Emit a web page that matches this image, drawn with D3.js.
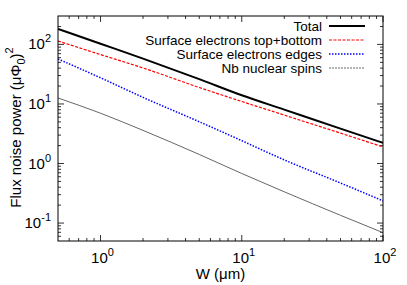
<!DOCTYPE html>
<html>
<head>
<meta charset="utf-8">
<script src="https://cdn.jsdelivr.net/npm/d3@7"></script>
<style>
  body { margin: 0; background: #fff; }
  text { font-family: "Liberation Sans", Arial, sans-serif; fill: #000; }
</style>
</head>
<body>
<script>
// data
const widths = [0.5, 1, 2, 5, 10, 20, 50, 100];
const total = [182, 102.6, 57.8, 26.1, 14.0, 8.03, 3.85, 2.22];
const topBottom = [114, 67.5, 40.2, 18.9, 11.0, 6.5, 3.24, 1.9];
const edges = [57, 27.5, 12.9, 5.03, 2.42, 1.15, 0.471, 0.236];
const nuclear = [12.6, 7.0, 3.6, 1.42, 0.68, 0.335, 0.135, 0.069];
const seriesNames = ["Total", "Surface electrons top+bottom", "Surface electrons edges", "Nb nuclear spins"];
const xTicks = [1, 10, 100];
const yTicks = [0.1, 1, 10, 100];

const width = 407, height = 285;
const margin = {top: 16, right: 24, bottom: 44, left: 58};

const svg = d3.select("body").append("svg")
  .attr("width", width).attr("height", height);

const x = d3.scaleLog().domain([0.5, 100]).range([margin.left, width - margin.right]);
const y = d3.scaleLog().domain([0.05, 300]).range([height - margin.bottom, margin.top]);

const series = [
  {name: seriesNames[0], values: total, color: "#000", w: 2, dash: null},
  {name: seriesNames[1], values: topBottom, color: "#f00", w: 1.2, dash: "3,1.5"},
  {name: seriesNames[2], values: edges, color: "#00f", w: 1.5, dash: "1.5,1.5"},
  {name: seriesNames[3], values: nuclear, color: "#555", w: 0.9, dash: null}
];

// minor ticks
const minorX = [], minorY = [];
for (let e = -1; e <= 2; e++) for (let m = 2; m <= 9; m++) {
  const v = m * Math.pow(10, e);
  if (v > 0.5 && v < 100) minorX.push(v);
}
for (let e = -2; e <= 2; e++) for (let m = 2; m <= 9; m++) {
  const v = m * Math.pow(10, e);
  if (v > 0.05 && v < 300) minorY.push(v);
}

const x0 = margin.left, x1 = width - margin.right;
const y0 = height - margin.bottom, y1 = margin.top;
const ticks = svg.append("g").attr("stroke", "#000").attr("stroke-width", 0.8);
minorX.forEach(v => {
  ticks.append("line").attr("x1", x(v)).attr("x2", x(v)).attr("y1", y0).attr("y2", y0 - 3);
  ticks.append("line").attr("x1", x(v)).attr("x2", x(v)).attr("y1", y1).attr("y2", y1 + 3);
});
xTicks.forEach(v => {
  ticks.append("line").attr("x1", x(v)).attr("x2", x(v)).attr("y1", y0).attr("y2", y0 - 6);
  ticks.append("line").attr("x1", x(v)).attr("x2", x(v)).attr("y1", y1).attr("y2", y1 + 6);
});
minorY.forEach(v => {
  ticks.append("line").attr("x1", x0).attr("x2", x0 + 3).attr("y1", y(v)).attr("y2", y(v));
  ticks.append("line").attr("x1", x1).attr("x2", x1 - 3).attr("y1", y(v)).attr("y2", y(v));
});
yTicks.forEach(v => {
  ticks.append("line").attr("x1", x0).attr("x2", x0 + 6).attr("y1", y(v)).attr("y2", y(v));
  ticks.append("line").attr("x1", x1).attr("x2", x1 - 6).attr("y1", y(v)).attr("y2", y(v));
});

// tick labels
const expOf = v => Math.round(Math.log10(v));
xTicks.forEach(v => {
  const t = svg.append("text").attr("x", x(v) + 2).attr("y", y0 + 22)
    .attr("text-anchor", "middle").style("font-size", "15px");
  t.append("tspan").text("10");
  t.append("tspan").attr("dy", -7).style("font-size", "11px").text(expOf(v));
});
yTicks.forEach(v => {
  const t = svg.append("text").attr("x", x0 - 7).attr("y", y(v) + 5)
    .attr("text-anchor", "end").style("font-size", "15px");
  t.append("tspan").text("10");
  t.append("tspan").attr("dy", -7).style("font-size", "11px").text(expOf(v));
});

// axis titles
svg.append("text").attr("x", (x0 + x1) / 2).attr("y", 279)
  .attr("text-anchor", "middle").style("font-size", "15px").text("W (μm)");
const yl = svg.append("text")
  .attr("transform", `translate(21, ${(y0 + y1) / 2 - 1}) rotate(-90)`)
  .attr("text-anchor", "middle").style("font-size", "15px");
yl.append("tspan").text("Flux noise power (μΦ");
yl.append("tspan").attr("dy", 4).style("font-size", "11px").text("0");
yl.append("tspan").attr("dy", -4).text(")");
yl.append("tspan").attr("dy", -8).style("font-size", "11px").text("2");

// lines
svg.append("clipPath").attr("id", "clip").append("rect")
  .attr("x", x0).attr("y", y1).attr("width", x1 - x0).attr("height", y0 - y1);
const line = d3.line().x((d, i) => x(widths[i])).y(d => y(d)).curve(d3.curveMonotoneX);
const plot = svg.append("g").attr("clip-path", "url(#clip)");
series.forEach(s => {
  plot.append("path").attr("d", line(s.values)).attr("fill", "none")
    .attr("stroke", s.color).attr("stroke-width", s.w)
    .attr("stroke-dasharray", s.dash);
});

// legend
const legend = svg.append("g");
series.forEach((s, i) => {
  const ly = 26 + i * 14;
  legend.append("text").attr("x", 322).attr("y", ly + 5).attr("text-anchor", "end")
    .style("font-size", "13.5px").text(s.name);
  legend.append("line").attr("x1", 329).attr("x2", 365).attr("y1", ly).attr("y2", ly)
    .attr("stroke", s.color).attr("stroke-width", s.w)
    .attr("stroke-dasharray", i === 3 ? "2,1" : s.dash);
});

// frame
svg.append("rect").attr("x", x0).attr("y", y1).attr("width", x1 - x0).attr("height", y0 - y1)
  .attr("fill", "none").attr("stroke", "#000").attr("stroke-width", 1);
</script>
</body>
</html>
